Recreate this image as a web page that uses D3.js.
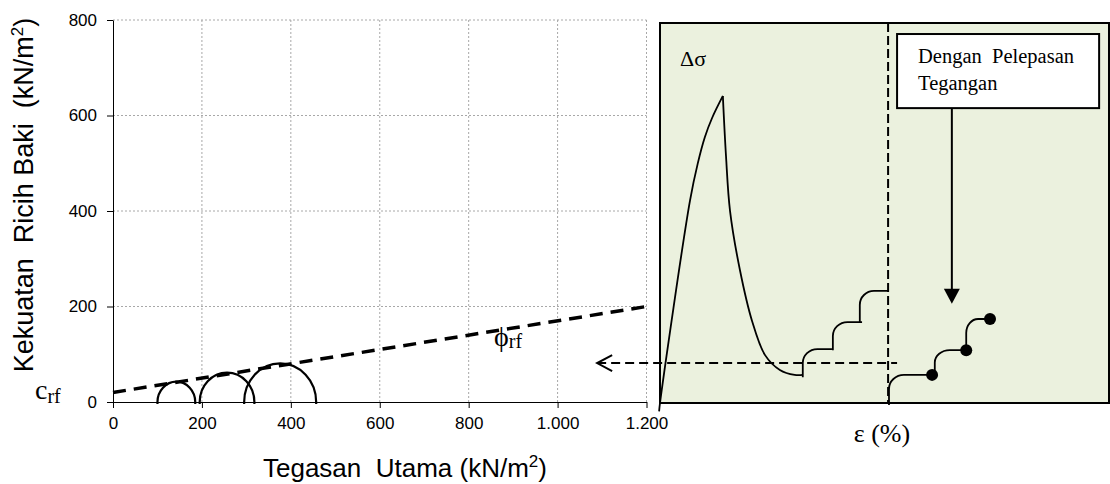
<!DOCTYPE html>
<html>
<head>
<meta charset="utf-8">
<script src="https://cdn.jsdelivr.net/npm/d3@7"></script>
<style>
  body { margin: 0; background: #fff; }
  svg { display: block; }
</style>
</head>
<body>
<svg id="chart" width="1110" height="484"></svg>
<script>
// Mohr circles at residual state (kN/m2)
const sigma3 = [100, 195, 295];
const sigma1 = [185, 318, 457];
// residual envelope: sigma and tau at both ends
const envSigma = [0, 1200];
const envTau = [20, 200];
const xTicks = [0, 200, 400, 600, 800, 1000, 1200];
const yTicks = [0, 200, 400, 600, 800];

// stress-strain sketch (strain, stress) in arbitrary units
const risePts = [[-0.02, -0.22], [0, 0], [0.67, 5.34], [0.84, 6.30], [1.0, 7.0], [1.16, 7.5], [1.40, 8.08]];
const decayPts = [[1.40, 8.08], [1.47, 6.5], [1.56, 5.05], [1.78, 3.5], [2.05, 2.16], [2.34, 1.26], [2.67, 0.87], [3.0, 0.74], [3.18, 0.74]];
// steps without stress release: start strain, bottom stress, top stress, end strain
const stepsPlain = [[3.18, 0.68, 1.42, 3.83], [3.85, 1.39, 2.13, 4.50], [4.45, 2.13, 2.95, 5.08]];
// steps with stress release (end in a dot)
const stepsRelease = [[5.10, -0.05, 0.74, 6.06], [6.12, 0.74, 1.39, 6.82], [6.82, 1.39, 2.21, 7.35]];
const peakStrainLine = 5.08;
const residualStress = 1.05;

const svg = d3.select("#chart");
const sans = '"Liberation Sans", Arial, sans-serif';
const serif = '"Liberation Serif", "Times New Roman", serif';
const fmt = d3.formatLocale({decimal: ",", thousands: ".", grouping: [3], currency: ["", ""]}).format(",");

// ---------- left: Mohr circles ----------
const x = d3.scaleLinear().domain([0, 1200]).range([113, 646.5]);
const y = d3.scaleLinear().domain([0, 800]).range([402, 20]);

const grid = svg.append("g").attr("stroke", "#a8a8a8").attr("stroke-dasharray", "2,2");
grid.selectAll(".gx").data(xTicks.slice(1)).enter().append("line")
  .attr("x1", d => x(d)).attr("x2", d => x(d)).attr("y1", y(0)).attr("y2", y(800));
grid.selectAll(".gy").data(yTicks.slice(1)).enter().append("line")
  .attr("x1", x(0)).attr("x2", x(1200)).attr("y1", d => y(d)).attr("y2", d => y(d));

const xAxis = svg.append("g").attr("transform", `translate(0,${y(0)})`)
  .call(d3.axisBottom(x).tickValues(xTicks).tickFormat(fmt).tickSize(6).tickSizeOuter(0).tickPadding(9));
const yAxis = svg.append("g").attr("transform", `translate(${x(0)},0)`)
  .call(d3.axisLeft(y).tickValues(yTicks).tickFormat(fmt).tickSize(6).tickSizeOuter(0).tickPadding(10));
[xAxis, yAxis].forEach(a => a.attr("font-family", sans).attr("font-size", 17));
xAxis.selectAll("text").attr("fill", "#000");
yAxis.selectAll("text").attr("fill", "#000");

// envelope
svg.append("path")
  .datum(d3.zip(envSigma, envTau))
  .attr("d", d3.line().x(d => x(d[0])).y(d => y(d[1])))
  .attr("fill", "none").attr("stroke", "#000").attr("stroke-width", 3.5).attr("stroke-dasharray", "13,8");

// circles
svg.append("g").selectAll("path").data(d3.zip(sigma3, sigma1)).enter().append("path")
  .attr("d", ([s3, s1]) => {
    const r = (s1 - s3) / 2;
    const rx = (x(s1) - x(s3)) / 2, ry = y(0) - y(r);
    return `M${x(s3)},${y(0) + 2}L${x(s3)},${y(0)}A${rx},${ry} 0 0 1 ${x(s1)},${y(0)}L${x(s1)},${y(0) + 2}`;
  })
  .attr("fill", "none").attr("stroke", "#000").attr("stroke-width", 2.2);

// labels
const crf = svg.append("text").attr("x", 35).attr("y", 399).attr("font-family", serif).attr("font-size", 28);
crf.append("tspan").text("c");
crf.append("tspan").attr("dy", 4).attr("font-size", 20).text("rf");

const phi = svg.append("text").attr("x", 494).attr("y", 346).attr("font-family", serif).attr("font-size", 28);
phi.append("tspan").text("ϕ");
phi.append("tspan").attr("dy", 2).attr("font-size", 20).text("rf");

const yTitle = svg.append("text").attr("transform", "translate(33,195) rotate(-90)")
  .attr("text-anchor", "middle").attr("font-family", sans).attr("font-size", 27).style("white-space", "pre");
yTitle.append("tspan").text("Kekuatan  Ricih Baki  (kN/m");
yTitle.append("tspan").attr("dy", -10).attr("font-size", 17).text("2");
yTitle.append("tspan").attr("dy", 10).text(")");

const xTitle = svg.append("text").attr("x", 405).attr("y", 477)
  .attr("text-anchor", "middle").attr("font-family", sans).attr("font-size", 26).style("white-space", "pre");
xTitle.append("tspan").text("Tegasan  Utama (kN/m");
xTitle.append("tspan").attr("dy", -10).attr("font-size", 17).text("2");
xTitle.append("tspan").attr("dy", 10).text(")");

// ---------- right: stress-strain sketch ----------
const xE = d3.scaleLinear().domain([0, 10]).range([660, 1109]);
const yS = d3.scaleLinear().domain([0, 10]).range([403, 23]);

svg.append("rect")
  .attr("x", xE(0)).attr("y", yS(10)).attr("width", xE(10) - xE(0)).attr("height", yS(0) - yS(10))
  .attr("fill", "#ebf1de").attr("stroke", "#000").attr("stroke-width", 2);

const curve = d3.line().x(d => xE(d[0])).y(d => yS(d[1])).curve(d3.curveCatmullRom.alpha(0.5));
// one rounded step: straight rise, quarter-ellipse turn, flat run
const stepPath = ([s0, b, t, s1]) => {
  const x0 = xE(s0), x1 = xE(s1), yb = yS(b), yt = yS(t);
  const rv = Math.min((yb - yt) * 0.5, 14), rh = Math.min((x1 - x0) * 0.5, 15);
  return `M${x0},${yb}V${yt + rv}A${rh},${rv} 0 0 1 ${x0 + rh},${yt}H${x1}`;
};

const sketch = svg.append("g").attr("fill", "none").attr("stroke", "#000").attr("stroke-width", 1.8);
sketch.append("path").datum(risePts).attr("d", curve);
sketch.append("path").datum(decayPts).attr("d", curve);
sketch.selectAll(".sp").data(stepsPlain).enter().append("path").attr("d", stepPath);
sketch.selectAll(".sr").data(stepsRelease).enter().append("path").attr("d", stepPath);

svg.append("g").selectAll("circle").data(stepsRelease).enter().append("circle")
  .attr("cx", d => xE(d[3])).attr("cy", d => yS(d[2])).attr("r", 6).attr("fill", "#000");

// peak strain line
svg.append("line")
  .attr("x1", xE(peakStrainLine)).attr("x2", xE(peakStrainLine)).attr("y1", yS(10)).attr("y2", yS(0))
  .attr("stroke", "#000").attr("stroke-width", 2).attr("stroke-dasharray", "9,4");

// residual level carried back to the Mohr plot
const arrowTip = xE(-1.40), arrowEnd = xE(5.28), ry0 = yS(residualStress);
svg.append("line").attr("x1", arrowTip).attr("x2", arrowEnd).attr("y1", ry0).attr("y2", ry0)
  .attr("stroke", "#000").attr("stroke-width", 2).attr("stroke-dasharray", "9,5");
svg.append("path").attr("d", `M${arrowTip + 15},${ry0 - 8}L${arrowTip},${ry0}L${arrowTip + 15},${ry0 + 8}`)
  .attr("fill", "none").attr("stroke", "#000").attr("stroke-width", 2);

// callout box
const bx0 = xE(5.28), bx1 = xE(9.78), by0 = yS(9.71), by1 = yS(7.76);
svg.append("rect").attr("x", bx0).attr("y", by0).attr("width", bx1 - bx0).attr("height", by1 - by0)
  .attr("fill", "#fff").attr("stroke", "#000").attr("stroke-width", 2);
const boxText = svg.append("text").attr("font-family", serif).attr("font-size", 20.5).style("white-space", "pre");
boxText.append("tspan").attr("x", bx0 + 21).attr("y", by0 + 29).text("Dengan  Pelepasan");
boxText.append("tspan").attr("x", bx0 + 21).attr("y", by0 + 56).text("Tegangan");

const ax = xE(6.50), tipY = yS(2.61);
svg.append("line").attr("x1", ax).attr("x2", ax).attr("y1", by1).attr("y2", tipY - 14)
  .attr("stroke", "#000").attr("stroke-width", 2);
svg.append("path").attr("d", `M${ax - 8},${tipY - 15}L${ax + 8},${tipY - 15}L${ax},${tipY}Z`).attr("fill", "#000");

svg.append("text").attr("x", 680).attr("y", 66).attr("font-family", serif).attr("font-size", 22).text("Δσ");
svg.append("text").attr("x", 882).attr("y", 442).attr("text-anchor", "middle")
  .attr("font-family", serif).attr("font-size", 26).text("ε (%)");
</script>
</body>
</html>
